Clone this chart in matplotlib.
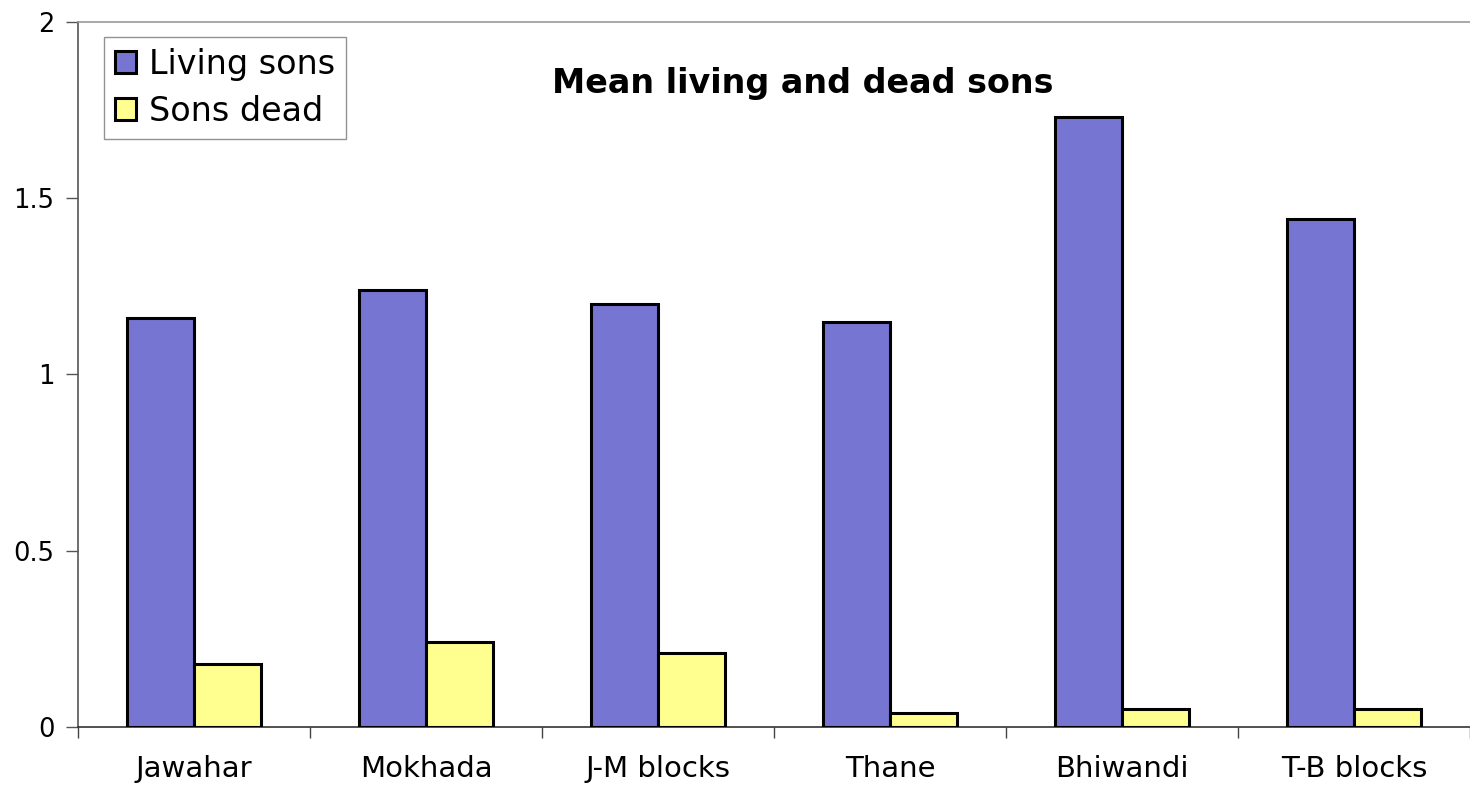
import matplotlib
matplotlib.use("Agg")
import matplotlib.pyplot as plt
import numpy as np

categories = ["Jawahar", "Mokhada", "J-M blocks", "Thane", "Bhiwandi", "T-B blocks"]
living_sons = [1.16, 1.24, 1.20, 1.15, 1.73, 1.44]
sons_dead = [0.18, 0.24, 0.21, 0.04, 0.05, 0.05]
yticks = [0, 0.5, 1, 1.5, 2]
ytick_labels = ["0", "0.5", "1", "1.5", "2"]

plt.rcParams['font.family'] = ['DejaVu Sans']

fig = plt.figure(figsize=(14.7, 7.88), dpi=100)
ax = fig.add_axes([78/1470, 1-727/788, 1-78/1470, (727-22)/788])

x = np.arange(len(categories))
w = 0.29
ax.bar(x - w/2, living_sons, w, color='#7676d2', edgecolor='black', linewidth=2.2, label='Living sons', zorder=3)
ax.bar(x + w/2, sons_dead, w, color='#ffff8f', edgecolor='black', linewidth=2.2, label='Sons dead', zorder=3)

ax.set_ylim(0, 2)
ax.set_xlim(-0.5, 5.43)
ax.set_yticks(yticks)
ax.set_yticklabels(ytick_labels, fontsize=18.5)
ax.tick_params(axis='y', length=9, width=1, pad=8, color='#555555')

ax.set_xticks(np.arange(-0.5, len(categories), 1.0))
ax.set_xticklabels([])
ax.set_xticks(x, minor=True)
ax.set_xticklabels(categories, minor=True, fontsize=21)
ax.tick_params(axis='x', which='major', length=8, width=1, color='#444444')
ax.tick_params(axis='x', which='minor', length=0, pad=20)

ax.spines['right'].set_visible(False)
ax.spines['top'].set_color('#9a9a9a')
ax.spines['top'].set_linestyle((0, (2, 1)))
ax.spines['top'].set_linewidth(1.2)
ax.spines['left'].set_color('#555555')
ax.spines['bottom'].set_color('#333333')
ax.spines['left'].set_linewidth(1.2)
ax.spines['bottom'].set_linewidth(1.2)

ax.text(0.521, 0.899, "Mean living and dead sons", transform=ax.transAxes,
        ha='center', va='baseline', fontsize=24, fontweight='bold')

leg = ax.legend(loc='upper left', bbox_to_anchor=(0.0187, 0.979), fontsize=24,
                frameon=True, fancybox=False, edgecolor='#777777',
                handlelength=0.62, handleheight=0.62, handletextpad=0.4,
                borderpad=0.33, labelspacing=0.42, borderaxespad=0)
leg.get_frame().set_linewidth(1.0)

fig.savefig("out.png", dpi=100)
